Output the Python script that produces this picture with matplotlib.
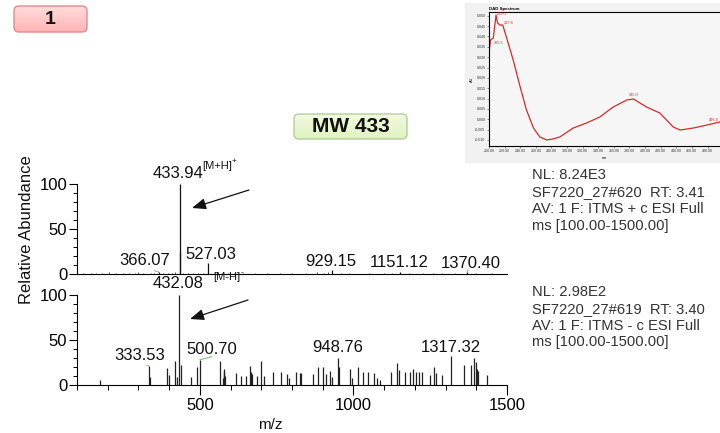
import numpy as np
import matplotlib
matplotlib.use("Agg")
import matplotlib.pyplot as plt
from matplotlib.patches import FancyBboxPatch, Rectangle
from matplotlib.colors import LinearSegmentedColormap
from matplotlib.ticker import MultipleLocator, FixedLocator, FormatStrFormatter

plt.rcParams['font.family'] = ['Liberation Sans', 'DejaVu Sans']

W, H = 720, 433

# positive mode spectrum (m/z, relative abundance)
pos_mz = [433.94, 435.0, 527.03, 366.07, 929.15, 1151.12, 1370.40]
pos_int = [100, 24, 12, 2, 4, 2, 2]
pos_noise_mz = [120, 145, 162, 180, 205, 228, 250, 270, 288, 300, 315, 340, 352, 380,
                395, 410, 418, 445, 460, 478, 495, 510, 545, 560, 590, 612, 640, 680,
                720, 760, 800, 845, 880, 905, 918, 960, 985, 1050, 1100, 1125, 1180,
                1225, 1260, 1290, 1330, 1400, 1450]
pos_noise_int = [1, 1.5, 1, 1, 2, 1, 1.5, 1, 1, 2, 1, 1.5, 1, 1.5,
                 1, 1.5, 2, 1.5, 1, 1, 1.5, 1, 1, 1.5, 1, 1, 1.5, 1,
                 1, 1.5, 1, 1, 2, 1.5, 2, 1, 1.5, 1, 1, 1.5, 1,
                 1, 1.5, 1, 1, 1, 1]

# negative mode spectrum
neg_mz = [175, 333.53, 337, 392, 398, 418, 424, 432.08, 439, 470, 490, 500.70, 566,
          575, 577, 579, 580, 582, 618, 633, 649, 663, 668, 671, 687, 698, 709, 739,
          763, 783, 789, 813, 826, 829, 870, 886, 902, 911, 924, 930, 948.76, 952,
          989, 994, 1014, 1030, 1046, 1068, 1076, 1085, 1122, 1141, 1150, 1168, 1185,
          1195, 1203, 1215, 1222, 1250, 1261, 1268, 1288, 1317.32, 1361, 1383, 1391,
          1400, 1403, 1405, 1434]
neg_int = [6, 21, 9, 19, 11, 27, 9, 100, 22, 9, 20, 28, 27,
           8, 12, 16, 18, 10, 13, 10, 10, 21, 15, 12, 10, 27, 10, 15,
           15, 12, 8, 14, 13, 13, 12, 20, 20, 12, 16, 9, 30, 20,
           18, 8, 20, 15, 14, 13, 8, 6, 14, 25, 17, 14, 14,
           18, 15, 14, 14, 11, 20, 13, 11, 32, 22, 22, 30,
           26, 18, 16, 11]

scan_pos = ["NL: 8.24E3", "SF7220_27#620  RT: 3.41",
            "AV: 1 F: ITMS + c ESI Full", "ms [100.00-1500.00]"]
scan_neg = ["NL: 2.98E2", "SF7220_27#619  RT: 3.40",
            "AV: 1 F: ITMS - c ESI Full", "ms [100.00-1500.00]"]

# UV absorbance trace
uv_nm = [200.4, 202, 205.5, 209, 211, 214, 217.6, 222.7, 231, 240, 248, 257, 265, 274,
         282, 291, 308, 325, 342, 359, 376.5, 385, 402, 419, 436, 445, 462, 479, 496]
uv_abs = [0.0334, 0.0383, 0.0392, 0.0503, 0.0465, 0.0455, 0.0455, 0.0392, 0.0286, 0.0155,
          0.0045, -0.0042, -0.0085, -0.0100, -0.0095, -0.0085, -0.0042, -0.0018, 0.0011,
          0.0059, 0.0093, 0.0098, 0.0059, 0.0030, -0.0037, -0.0052, -0.0042, -0.0028,
          -0.0013]
uv_peaks = [205.5, 209, 217.6, 385, 496]

fig = plt.figure(figsize=(W / 100, H / 100), dpi=100)


def box_px(x0, y0, x1, y1):
    return [x0 / W, 1 - y1 / H, (x1 - x0) / W, (y1 - y0) / H]


def badge(x0, y0, x1, y1, top, bottom, edge, label, size):
    ax = fig.add_axes(box_px(x0, y0, x1, y1))
    w, h = x1 - x0, y1 - y0
    ax.set_xlim(0, w)
    ax.set_ylim(0, h)
    ax.set_axis_off()
    cmap = LinearSegmentedColormap.from_list('fill', [top, bottom])
    im = ax.imshow(np.linspace(0, 1, 64)[:, None], cmap=cmap, extent=[0, w, 0, h],
                   aspect='auto', origin='upper')
    rb = FancyBboxPatch((1, 1), w - 2, h - 2, boxstyle='round,pad=0,rounding_size=5',
                        facecolor='none', edgecolor=edge, lw=1.0)
    ax.add_patch(rb)
    im.set_clip_path(rb)
    ax.text(w / 2, h / 2, label, ha='center', va='center', fontsize=size,
            fontweight='bold', color='#111111')


badge(13, 5, 88, 33, '#ffdede', '#ffb2b2', '#e08c8c', '1', 14)
badge(293, 113, 408, 140, '#f2fae0', '#dff2bf', '#b4cc9c', 'MW 433', 15)

# UV inset
fig.add_artist(Rectangle((465 / W, 1 - 162 / H), 255 / W, 159 / H,
                         transform=fig.transFigure, color='#f1f1f1', zorder=0))
uv = fig.add_axes(box_px(489, 12, 720, 146))
uv.set_facecolor('#f6f6f6')
uv.plot(uv_nm, uv_abs, color='#d42a2a', lw=0.9)
# label offsets: (dx in nm, dy in AU, alignment)
uv_lab = {205.5: (1.0, -0.0022, 'left'), 209: (1.0, 0.0003, 'left'),
          217.6: (1.5, 0.0012, 'left'), 385: (0, 0.0012, 'center'), 496: (-1, 0.0010, 'right')}
for p in uv_peaks:
    ddx, ddy, ha = uv_lab[p]
    uv.text(p + ddx, np.interp(p, uv_nm, uv_abs) + ddy, f"{p:.1f}", color='#d42a2a',
            fontsize=2.8, ha=ha, va='bottom' if ha == 'center' else 'center')
uv.set_xlim(200, 496)
uv.set_ylim(-0.0129, 0.0518)
uv.yaxis.set_major_locator(MultipleLocator(0.005))
uv.yaxis.set_major_formatter(FormatStrFormatter('%.3f'))
uv.xaxis.set_major_locator(FixedLocator(np.arange(200, 481, 20)))
uv.xaxis.set_major_formatter(FormatStrFormatter('%.2f'))
uv.tick_params(labelsize=2.6, length=1.5, width=0.4, pad=1, colors='#333333')
uv.spines['right'].set_visible(False)
for s in ['top', 'left', 'bottom']:
    uv.spines[s].set_linewidth(0.8)
uv.set_title('DAD Spectrum', fontsize=3.2, fontweight='bold', loc='left', pad=1.5)
uv.set_xlabel('nm', fontsize=2.8, labelpad=1.5)
uv.set_ylabel('AU', fontsize=2.8, labelpad=1)

# mass spectra panels
ax1 = fig.add_axes(box_px(77, 184, 507, 274))
ax2 = fig.add_axes(box_px(77, 295, 507, 385))

ax1.vlines(pos_noise_mz, 0, pos_noise_int, color='#333333', lw=0.6)
ax1.vlines(pos_mz, 0, pos_int, color='#111111', lw=0.9)
ax2.vlines(neg_mz, 0, neg_int, color='#222222', lw=0.9)

for ax in (ax1, ax2):
    ax.set_xlim(100, 1500)
    ax.set_ylim(0, 100)
    ax.patch.set_alpha(0)
    ax.spines['top'].set_visible(False)
    ax.spines['right'].set_visible(False)
    for s in ['left', 'bottom']:
        ax.spines[s].set_linewidth(0.8)
    ax.yaxis.set_major_locator(FixedLocator([0, 50, 100]))
    ax.yaxis.set_minor_locator(MultipleLocator(10))
    ax.tick_params(axis='y', which='major', length=6, width=0.8, labelsize=12, pad=1)
    ax.tick_params(axis='y', which='minor', length=3, width=0.7)

ax1.tick_params(axis='x', which='both', bottom=False, labelbottom=False)
ax2.xaxis.set_major_locator(FixedLocator([500, 1000, 1500]))
ax2.xaxis.set_minor_locator(MultipleLocator(100))
ax2.tick_params(axis='x', which='major', length=7.2, width=0.8, labelsize=12, pad=2)
ax2.tick_params(axis='x', which='minor', length=3.6, width=0.7)

px = 0.72  # pixel offsets to points


def peak_label(ax, mz, h, dx, dy, lead=None, relpos=(0.5, 0)):
    arrow = None
    if lead:
        arrow = dict(arrowstyle='-', color=lead, lw=0.7, shrinkA=0, shrinkB=0,
                     relpos=relpos)
    ax.annotate(f"{mz:.2f}", xy=(mz, h), xytext=(dx * px, dy * px),
                textcoords='offset points', ha='center', va='center', fontsize=12,
                color='#111111', arrowprops=arrow, annotation_clip=False)


peak_label(ax1, 433.94, 100, -2, 10)
peak_label(ax1, 366.07, 2, -14, 12, '#9a9a9a', (0.5, 0.05))
peak_label(ax1, 527.03, 12, 3, 9)
peak_label(ax1, 929.15, 4, -1, 9)
peak_label(ax1, 1151.12, 2, -1, 10)
peak_label(ax1, 1370.40, 2, 4, 9, '#9a9a9a', (0.45, 0.05))

peak_label(ax2, 432.08, 100, -1, 12)
peak_label(ax2, 333.53, 21, -9, 11, '#6cbf6c', (0.45, 0.05))
peak_label(ax2, 500.70, 28, 12, 10, '#6cbf6c', (0.5, 0.05))
peak_label(ax2, 948.76, 30, 0, 11)
peak_label(ax2, 1317.32, 32, 0, 9)

# ion labels
ion_kw = dict(textcoords='offset points', ha='left', va='center', color='#111111',
              annotation_clip=False)
ax1.annotate("[M+H]", xy=(433.94, 100), xytext=(23 * px, 18 * px), fontsize=8, **ion_kw)
ax1.annotate("+", xy=(433.94, 100), xytext=(52 * px, 22 * px), fontsize=6, **ion_kw)
ax2.annotate("[M-H]", xy=(432.08, 100), xytext=(34 * px, 18 * px), fontsize=8, **ion_kw)
ax2.annotate("-", xy=(432.08, 100), xytext=(62 * px, 22 * px), fontsize=6, **ion_kw)

# arrows pointing at the molecular ions
arrow_kw = dict(arrowstyle='-|>,head_length=0.7,head_width=0.28', color='#111111',
                lw=0.9, shrinkA=0, shrinkB=0, mutation_scale=12)
ax1.annotate('', xy=(192, H - 208), xytext=(249, H - 190), xycoords='figure pixels',
             textcoords='figure pixels', arrowprops=arrow_kw, annotation_clip=False)
ax2.annotate('', xy=(190, H - 319), xytext=(248, H - 300), xycoords='figure pixels',
             textcoords='figure pixels', arrowprops=arrow_kw, annotation_clip=False)

fig.text(27 / W, 1 - 230 / H, "Relative Abundance", rotation=90, ha='center', va='center',
         fontsize=12, color='#111111')
fig.text(270 / W, 1 - 425 / H, "m/z", ha='center', va='center', fontsize=11, color='#111111')

for lines, ys in ((scan_pos, [175, 192, 209, 226]), (scan_neg, [292, 309, 326, 342])):
    for t, y in zip(lines, ys):
        fig.text(532 / W, 1 - y / H, t, ha='left', va='center', fontsize=10.6, color='#333333')

fig.savefig("out.png", dpi=100, facecolor='white')
